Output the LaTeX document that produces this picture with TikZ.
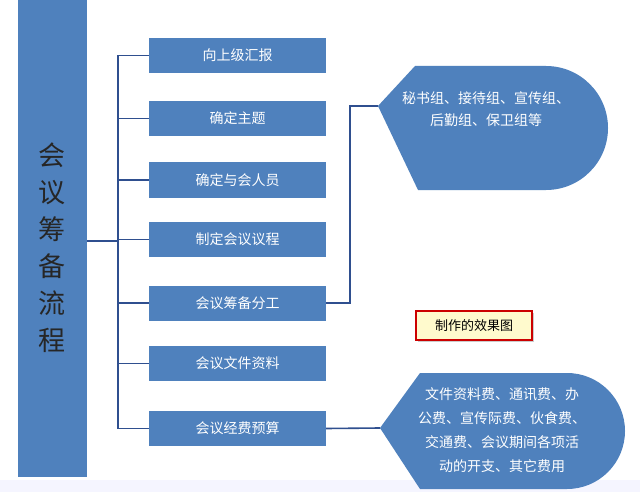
\documentclass[tikz,border=0pt]{standalone}
\usepackage{fontspec}
\newfontfamily\cjk{Noto Sans CJK SC}
\usetikzlibrary{shadows}
\definecolor{boxblue}{HTML}{4F81BD}
\definecolor{linkblue}{HTML}{2F4F8F}
\definecolor{notefill}{HTML}{FFFACD}
\tikzset{
  stepbox/.style={fill=boxblue,minimum width=177pt,minimum height=35pt,inner sep=0pt,text=white,font=\cjk\fontsize{14}{15}\selectfont},
  link/.style={draw=linkblue,line width=1.6pt},
  blob/.style={fill=boxblue}
}
\begin{document}
\begin{tikzpicture}[x=1pt,y=-1pt]
\useasboundingbox (0,0) rectangle (640,492);
\fill[white] (0,0) rectangle (640,492);
\fill[blue!4] (0,480) rectangle (640,492);
\node[fill=boxblue,minimum width=69pt,minimum height=477pt,inner sep=0pt,anchor=north west] (bar) at (18,0) {};
\node[font=\cjk\fontsize{27}{37}\selectfont,align=center,text=black!85] (title) at (52,248) {会\\议\\筹\\备\\流\\程};
\node[stepbox] (s1) at (237.5,55.5) {向上级汇报};
\node[stepbox] (s2) at (237.5,118.5) {确定主题};
\node[stepbox] (s3) at (237.5,180) {确定与会人员};
\node[stepbox] (s4) at (237.5,239.5) {制定会议议程};
\node[stepbox] (s5) at (237.5,303) {会议筹备分工};
\node[stepbox] (s6) at (237.5,363.5) {会议文件资料};
\node[stepbox] (s7) at (237.5,428.5) {会议经费预算};
\coordinate (t1) at (118,55.5);
\coordinate (t7) at (118,428.5);
\coordinate (tm) at (118,241);
\draw[link] (bar.east |- tm) -- (tm);
\draw[link] (t1) -- (t7);
\foreach \i in {1,...,7} \draw[link] (s\i.west) -- (s\i.west -| tm);
% top hexagon
\fill[blob] (378,106) -- (415,66) -- (546,66) arc[start angle=-90,end angle=90,radius=62] -- (418,190) -- cycle;
\node[text=white,font=\cjk\fontsize{14}{22}\selectfont,align=center] (h1) at (486,109) {秘书组、接待组、宣传组、\\后勤组、保卫组等};
\coordinate (h1l) at (378,106);
\draw[link] (s5.east) -- (350,303) -- (350,106) -- (h1l);
% bottom shape
\fill[blob] (380,428) -- (420,373) -- (567,373) arc[start angle=-90,end angle=90,radius=58] -- (420,489) -- cycle;
\node[text=white,font=\cjk\fontsize{14}{24}\selectfont,align=center] (h2) at (502,430) {文件资料费、通讯费、办\\公费、宣传际费、伙食费、\\交通费、会议期间各项活\\动的开支、其它费用};
\coordinate (h2l) at (380,428);
\draw[link] (s7.east) -- (h2l);
% note
\node[draw=red!80!black,line width=1.2pt,fill=notefill,minimum width=116pt,minimum height=29pt,inner sep=0pt,font=\cjk\fontsize{13}{14}\selectfont,drop shadow={shadow xshift=2pt,shadow yshift=-2pt,opacity=0.4}] (note) at (474,325.5) {制作的效果图};
\end{tikzpicture}
\end{document}
